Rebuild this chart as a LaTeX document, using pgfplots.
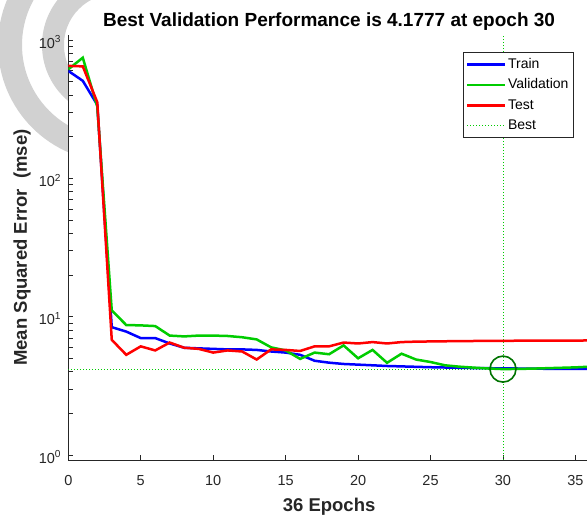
\documentclass[border=0pt]{standalone}
\usepackage{pgfplots}
\pgfplotsset{compat=1.18}
\usepackage{fontspec}
\setmainfont{Liberation Sans}
\definecolor{mgreen}{rgb}{0,0.8,0}
\definecolor{dgreen}{rgb}{0,0.45,0}
\definecolor{axgray}{rgb}{0.15,0.15,0.15}
\definecolor{wmgray}{rgb}{0.82,0.82,0.82}
\tikzset{bestline/.style={draw=mgreen, color=mgreen, line width=0.9pt, dash pattern=on 0.9pt off 2.1pt}}
\begin{document}
\begin{tikzpicture}
\useasboundingbox (-68.3pt,-55pt) rectangle (518.7pt,460pt);
\clip (-68.3pt,-55pt) rectangle (518.7pt,460pt);
% faint background watermark arcs (left margin only)
\begin{scope}
\clip (-68.3pt,-55pt) -- (0pt,-55pt) -- (0pt,425pt) -- (31.7pt,425pt) -- (31.7pt,460pt) -- (-68.3pt,460pt) -- cycle;
\draw[wmgray, line width=24pt] (46.7pt,415pt) circle[radius=105pt];
\draw[wmgray, line width=22pt] (46.7pt,415pt) circle[radius=62pt];
\end{scope}
\begin{axis}[
  at={(0pt,0pt)}, anchor=south west,
  scale only axis, width=521.6pt, height=425pt,
  ymode=log, xmin=0, xmax=36, ymin=0.92, ymax=1087,
  axis x line*=bottom, axis y line*=left,
  axis line style={axgray, line width=0.8pt, -},
  tick style={axgray, line width=0.8pt}, tick align=inside,
  major tick length=5pt, minor tick length=5pt,
  xtick={0,5,...,35},
  ytick={1,10,100,1000},
  minor ytick={2,3,4,5,6,7,8,9,20,30,40,50,60,70,80,90,200,300,400,500,600,700,800,900},
  yticklabels={10\textsuperscript{0},10\textsuperscript{1},10\textsuperscript{2},10\textsuperscript{3}},
  /pgf/number format/assume math mode=true,
  ticklabel style={font=\fontsize{14.5}{17}\selectfont, text=axgray},
  xticklabel style={anchor=north, inner sep=0pt, yshift=-15pt},
  yticklabel style={anchor=east, inner sep=0pt, xshift=-7pt, yshift=-2pt},
  title={Best Validation Performance is 4.1777 at epoch 30},
  every axis title/.style={at={(axis description cs:0.5,1)}, anchor=base, yshift=8.3pt, inner sep=0pt, font=\fontsize{19}{22}\selectfont\bfseries},
  xlabel={36 Epochs},
  every axis x label/.style={at={(axis description cs:0.5,0)}, anchor=base, yshift=-51pt, inner sep=0pt, font=\fontsize{18.5}{22}\selectfont\bfseries, text=axgray},
  ylabel={Mean Squared Error\ \ (mse)},
  every axis y label/.style={at={(axis description cs:-0.0792,0.5)}, rotate=90, anchor=base, inner sep=0pt, font=\fontsize{18.5}{22}\selectfont\bfseries, text=axgray},
  legend style={at={(axis description cs:0.9682,0.9593)}, anchor=north east,
    draw=axgray, line width=0.6pt, fill=white, font=\fontsize{14}{16}\selectfont,
    inner xsep=2.5pt, inner ysep=4pt, row sep=5pt,
    nodes={inner xsep=2pt, inner ysep=1pt, text height=10.5pt, text depth=3pt}},
  legend cell align=left,
  legend image code/.code={\draw[#1] (0pt,0pt) -- (37.7pt,0pt);},
]
% best lines
\addplot[bestline, forget plot] coordinates {(0,4.1777) (36,4.1777)};
\addplot[bestline, forget plot] coordinates {(30,0.92) (30,1087)};
% Train
\addplot[blue, line width=2.5pt] coordinates {
(0,598)(1,507)(2,340)(3,8.4)(4,7.8)(5,7.0)(6,7.0)(7,6.4)(8,5.96)(9,5.9)(10,5.85)(11,5.8)(12,5.8)(13,5.75)(14,5.6)(15,5.5)(16,5.3)(17,4.8)(18,4.65)(19,4.55)(20,4.5)(21,4.45)(22,4.4)(23,4.37)(24,4.34)(25,4.31)(26,4.29)(27,4.27)(28,4.25)(29,4.24)(30,4.23)(31,4.22)(32,4.21)(33,4.2)(34,4.2)(35,4.19)(36,4.19)};
\addlegendentry{Train}
% Validation
\addplot[mgreen, line width=2.5pt] coordinates {
(0,614)(1,745)(2,330)(3,11.1)(4,8.7)(5,8.65)(6,8.55)(7,7.3)(8,7.2)(9,7.3)(10,7.3)(11,7.25)(12,7.1)(13,6.85)(14,6.0)(15,5.7)(16,4.95)(17,5.5)(18,5.35)(19,6.2)(20,5.0)(21,5.75)(22,4.64)(23,5.4)(24,4.9)(25,4.7)(26,4.45)(27,4.35)(28,4.28)(29,4.22)(30,4.1777)(31,4.19)(32,4.21)(33,4.24)(34,4.27)(35,4.3)(36,4.35)};
\addlegendentry{Validation}
% Test
\addplot[red, line width=2.5pt] coordinates {
(0,650)(1,645)(2,355)(3,6.8)(4,5.3)(5,6.1)(6,5.7)(7,6.5)(8,5.96)(9,5.85)(10,5.5)(11,5.7)(12,5.6)(13,4.9)(14,5.8)(15,5.75)(16,5.65)(17,6.1)(18,6.1)(19,6.5)(20,6.4)(21,6.55)(22,6.4)(23,6.55)(24,6.6)(25,6.62)(26,6.64)(27,6.66)(28,6.67)(29,6.68)(30,6.69)(31,6.7)(32,6.7)(33,6.71)(34,6.72)(35,6.72)(36,6.73)};
\addlegendentry{Test}
% best circle
\addplot[only marks, mark=o, mark size=13pt, dgreen, mark options={line width=1.6pt}, forget plot] coordinates {(30,4.1777)};
\addlegendimage{bestline}
\addlegendentry{Best}
\end{axis}
\end{tikzpicture}
\end{document}
